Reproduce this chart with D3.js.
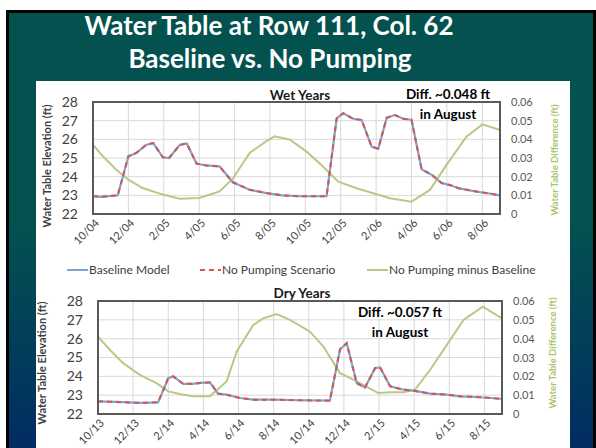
<!DOCTYPE html>
<html>
<head>
<meta charset="utf-8">
<script src="https://cdn.jsdelivr.net/npm/d3@7"></script>
<style>
  html, body { margin: 0; padding: 0; background: #fff; }
  svg { display: block; }
  text { font-family: Lato, "Open Sans", sans-serif; }
</style>
</head>
<body>
<svg id="slide" width="596" height="448"></svg>
<script>
// wet years: 10/04 - 9/06, months counted from Oct 2004
const wetLabels = ['10/04', '12/04', '2/05', '4/05', '6/05', '8/05', '10/05', '12/05', '2/06', '4/06', '6/06', '8/06']
const wetElevMonth = [0, 0.5, 1.4, 2.0, 2.45, 3.0, 3.4, 3.95, 4.3, 4.9, 5.3, 5.85, 6.4, 7.15, 7.9, 8.85, 9.8, 10.7, 11.7, 13.2, 13.77, 14.14, 14.7, 15.18, 15.75, 16.12, 16.6, 17.06, 17.53, 18.0, 18.57, 19.14, 19.7, 20.17, 20.7, 21.68, 22.4, 23.0]
const wetBaseline = [22.95, 22.92, 23.0, 25.09, 25.27, 25.7, 25.8, 25.04, 25.0, 25.7, 25.78, 24.7, 24.6, 24.55, 23.7, 23.3, 23.12, 23.0, 22.95, 22.95, 27.12, 27.4, 27.1, 27.04, 25.6, 25.5, 27.16, 27.3, 27.1, 27.05, 24.4, 24.1, 23.66, 23.55, 23.37, 23.2, 23.1, 23.0]
const wetNoPumping = wetBaseline.slice() // same at this scale
const wetDiffMonth = [0, 0.56, 1.3, 2.0, 2.8, 3.95, 4.9, 6.0, 7.15, 7.9, 8.85, 9.8, 10.26, 11.13, 12.07, 13.0, 13.86, 14.9, 15.84, 16.78, 18.0, 19.04, 19.98, 21.1, 22.0, 23.0]
const wetDiff = [0.0371, 0.0309, 0.0238, 0.0184, 0.0139, 0.0104, 0.0082, 0.0086, 0.0121, 0.0189, 0.0327, 0.039, 0.0416, 0.0398, 0.0334, 0.0254, 0.0173, 0.0138, 0.0111, 0.0084, 0.0066, 0.0129, 0.0263, 0.0414, 0.048, 0.045]

// dry years: 10/13 - 9/15
const dryLabels = ['10/13', '12/13', '2/14', '4/14', '6/14', '8/14', '10/14', '12/14', '2/15', '4/15', '6/15', '8/15']
const dryElevMonth = [0, 1.05, 2.4, 3.42, 4.0, 4.28, 4.85, 5.4, 5.8, 6.37, 6.84, 7.3, 8.08, 8.84, 9.98, 11.5, 13.2, 13.78, 14.16, 14.73, 15.2, 15.78, 16.06, 16.63, 17.4, 17.96, 18.91, 19.86, 20.62, 21.76, 22.9, 23.0]
const dryBaseline = [22.67, 22.64, 22.59, 22.62, 23.9, 24.0, 23.6, 23.6, 23.65, 23.68, 23.08, 23.03, 22.85, 22.76, 22.76, 22.73, 22.71, 25.44, 25.76, 23.64, 23.41, 24.44, 24.47, 23.47, 23.29, 23.24, 23.08, 23.03, 22.94, 22.89, 22.81, 22.8]
const dryNoPumping = dryBaseline.slice()
const dryDiffMonth = [0, 0.67, 1.43, 2.38, 3.33, 4.0, 4.66, 5.42, 6.37, 7.32, 7.9, 8.84, 9.4, 10.17, 10.93, 12.07, 12.83, 13.78, 14.73, 15.96, 16.63, 17.4, 18.05, 18.91, 19.86, 20.81, 21.9, 23.0]
const dryDiff = [0.0411, 0.0341, 0.027, 0.0208, 0.0164, 0.012, 0.0106, 0.0094, 0.0094, 0.0173, 0.0332, 0.0473, 0.0508, 0.0531, 0.05, 0.0437, 0.0358, 0.0217, 0.0173, 0.0111, 0.0116, 0.0116, 0.0129, 0.0235, 0.0367, 0.0499, 0.057, 0.0508]

const elevTicks = [22, 23, 24, 25, 26, 27, 28]
const diffTicks = [0, 0.01, 0.02, 0.03, 0.04, 0.05, 0.06]

const blue = '#7ea4d4'
const red = '#d9534f'
const green = '#b9c985'

const svg = d3.select('#slide')

// slide background
const defs = svg.append('defs')
const grad = defs.append('linearGradient')
    .attr('id', 'bg').attr('gradientUnits', 'userSpaceOnUse')
    .attr('x1', 0).attr('y1', 220).attr('x2', 0).attr('y2', 448)
grad.append('stop').attr('offset', 0).attr('stop-color', '#03524f')
grad.append('stop').attr('offset', 1).attr('stop-color', '#022c62')

svg.append('rect').attr('x', 0).attr('y', 0).attr('width', 596).attr('height', 448).attr('fill', '#fff')
svg.append('rect')
    .attr('x', 7.5).attr('y', 11.5).attr('width', 587).attr('height', 450)
    .attr('fill', 'url(#bg)').attr('stroke', '#000').attr('stroke-width', 3)

svg.append('text').attr('x', 269).attr('y', 35).attr('text-anchor', 'middle')
    .attr('fill', '#fff').attr('font-weight', 'bold').attr('font-size', 26)
    .text('Water Table at Row 111, Col. 62')
svg.append('text').attr('x', 270).attr('y', 68).attr('text-anchor', 'middle')
    .attr('fill', '#fff').attr('font-weight', 'bold').attr('font-size', 26)
    .text('Baseline vs. No Pumping')

// white chart panel
svg.append('rect').attr('x', 36).attr('y', 81).attr('width', 534).attr('height', 367).attr('fill', '#fff')

const drawChart = cfg => {
    const g = svg.append('g')
    const x = d3.scaleLinear().domain([0, 23]).range([cfg.left, cfg.right])
    const yL = d3.scaleLinear().domain([22, 28]).range([cfg.bottom, cfg.top])
    const yR = d3.scaleLinear().domain([0, 0.06]).range([cfg.bottom, cfg.top])
    const tickMonths = cfg.labels.map((d, i) => i * 2)

    // grid
    g.append('g').selectAll('line').data(elevTicks).enter().append('line')
        .attr('x1', cfg.left).attr('x2', cfg.right)
        .attr('y1', d => yL(d)).attr('y2', d => yL(d))
        .attr('stroke', '#d9d9d9').attr('stroke-width', 1)
    g.append('g').selectAll('line').data(tickMonths).enter().append('line')
        .attr('x1', d => x(d)).attr('x2', d => x(d))
        .attr('y1', cfg.top).attr('y2', cfg.bottom)
        .attr('stroke', '#d9d9d9').attr('stroke-width', 1)

    // left axis
    const left = g.append('g').attr('transform', `translate(${cfg.left},0)`)
        .call(d3.axisLeft(yL).tickValues(elevTicks).tickSize(0).tickPadding(15).tickFormat(d3.format('d')))
    left.select('.domain').remove()
    left.selectAll('text').attr('font-size', 14).attr('fill', '#404040')
        .style('font-family', 'Lato, sans-serif')

    // right axis
    const right = g.append('g').attr('transform', `translate(${cfg.right},0)`)
        .call(d3.axisRight(yR).tickValues(diffTicks).tickSize(0).tickPadding(11)
            .tickFormat(d => d === 0 ? '0' : d3.format('.2f')(d)))
    right.select('.domain').remove()
    right.selectAll('text').attr('font-size', 11).attr('fill', '#595959')
        .style('font-family', 'Lato, sans-serif')

    // x tick labels, rotated
    g.append('g').selectAll('text').data(tickMonths).enter().append('text')
        .attr('transform', d => `translate(${x(d) + 4},${cfg.bottom + 7}) rotate(-45)`)
        .attr('text-anchor', 'end').attr('dy', '0.35em')
        .attr('font-size', 11).attr('fill', '#404040')
        .text((d, i) => cfg.labels[i])

    // series
    const elevLine = d3.line().x((d, i) => x(cfg.elevMonth[i])).y(d => yL(d))
    const diffLine = d3.line().x((d, i) => x(cfg.diffMonth[i])).y(d => yR(d))

    g.append('path').datum(cfg.diff).attr('d', diffLine)
        .attr('fill', 'none').attr('stroke', green).attr('stroke-width', 2)
    g.append('path').datum(cfg.baseline).attr('d', elevLine)
        .attr('fill', 'none').attr('stroke', blue).attr('stroke-width', 2.2)
    g.append('path').datum(cfg.noPumping).attr('d', elevLine)
        .attr('fill', 'none').attr('stroke', red).attr('stroke-width', 2)
        .attr('stroke-dasharray', '5,4')

    // plot frame
    g.append('rect').attr('x', cfg.left).attr('y', cfg.top)
        .attr('width', cfg.right - cfg.left).attr('height', cfg.bottom - cfg.top)
        .attr('fill', 'none').attr('stroke', '#595959').attr('stroke-width', 2)

    // axis titles
    g.append('text').attr('transform', `translate(${cfg.leftTitleX},${cfg.leftTitleY}) rotate(-90)`)
        .attr('text-anchor', 'middle').attr('font-weight', 'bold').attr('font-size', 11)
        .attr('fill', '#404040').text('Water Table Elevation (ft)')
    g.append('text').attr('transform', `translate(${cfg.rightTitleX},${cfg.rightTitleY}) rotate(-90)`)
        .attr('text-anchor', 'middle').attr('font-weight', 'bold').attr('font-size', 9.5)
        .attr('fill', '#a9c46c').text('Water Table Difference (ft)')

    // chart title and note
    g.append('text').attr('x', cfg.titleX).attr('y', cfg.titleY).attr('text-anchor', 'middle')
        .attr('font-weight', 'bold').attr('font-size', 13.5).attr('fill', '#1a1a1a').text(cfg.title)
    g.append('text').attr('x', cfg.noteX).attr('y', cfg.noteY).attr('text-anchor', 'middle')
        .attr('font-weight', 'bold').attr('font-size', 13.5).attr('fill', '#000').text(cfg.note)
    g.append('text').attr('x', cfg.noteX).attr('y', cfg.noteY + 20).attr('text-anchor', 'middle')
        .attr('font-weight', 'bold').attr('font-size', 13.5).attr('fill', '#000').text('in August')
}

drawChart({
    left: 93, right: 500, top: 102, bottom: 214,
    labels: wetLabels,
    elevMonth: wetElevMonth, baseline: wetBaseline, noPumping: wetNoPumping,
    diffMonth: wetDiffMonth, diff: wetDiff,
    leftTitleX: 51, leftTitleY: 166, rightTitleX: 558, rightTitleY: 160,
    title: 'Wet Years', titleX: 300, titleY: 100,
    note: 'Diff. ~0.048 ft', noteX: 448, noteY: 99
})

drawChart({
    left: 98, right: 502, top: 301, bottom: 414,
    labels: dryLabels,
    elevMonth: dryElevMonth, baseline: dryBaseline, noPumping: dryNoPumping,
    diffMonth: dryDiffMonth, diff: dryDiff,
    leftTitleX: 46, leftTitleY: 363, rightTitleX: 556, rightTitleY: 353,
    title: 'Dry Years', titleX: 302, titleY: 298,
    note: 'Diff. ~0.057 ft', noteX: 400, noteY: 317
})

// legend
const legend = svg.append('g')
const legendItems = [
    { name: 'Baseline Model', color: blue, dash: null, x: 67 },
    { name: 'No Pumping Scenario', color: red, dash: '5,4', x: 200 },
    { name: 'No Pumping minus Baseline', color: green, dash: null, x: 367 }
]
legendItems.forEach(d => {
    legend.append('line').attr('x1', d.x).attr('x2', d.x + 21).attr('y1', 270).attr('y2', 270)
        .attr('stroke', d.color).attr('stroke-width', 2).attr('stroke-dasharray', d.dash)
    legend.append('text').attr('x', d.x + 22).attr('y', 270).attr('dy', '0.35em')
        .attr('font-size', 12).attr('fill', '#404040').text(d.name)
})
</script>
</body>
</html>
